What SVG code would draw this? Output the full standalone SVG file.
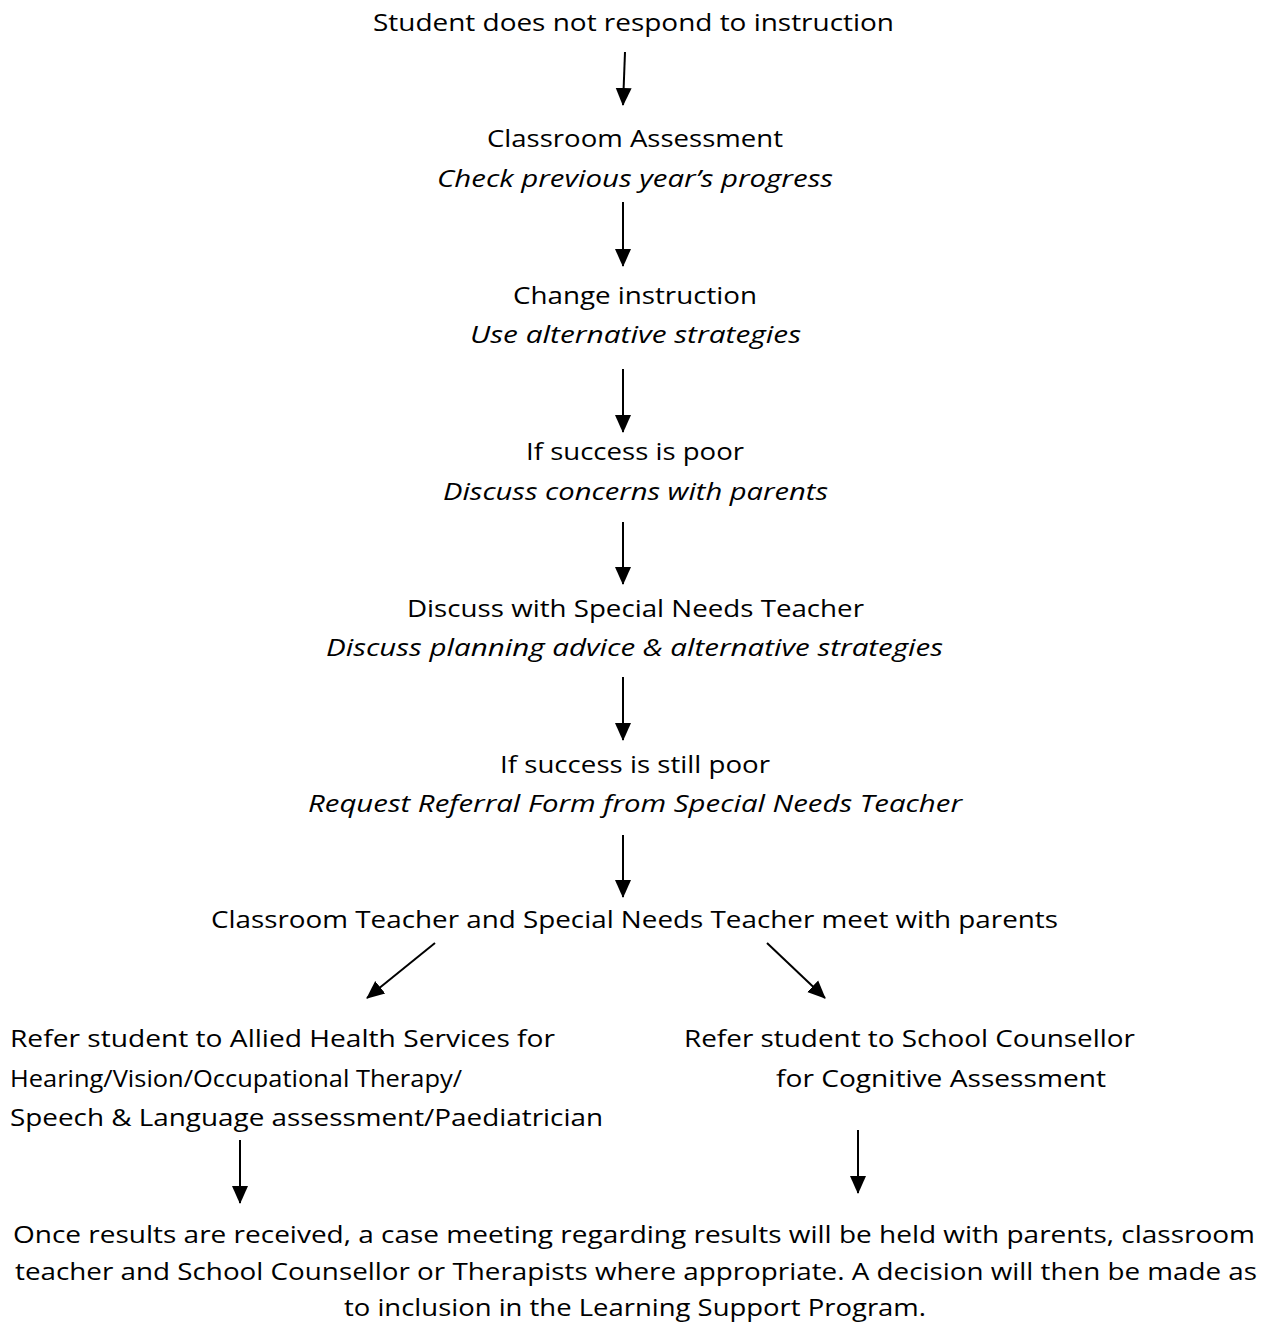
<svg xmlns="http://www.w3.org/2000/svg" width="1270" height="1326" viewBox="0 0 1270 1326">
<style>
text{font-family:"Open Sans","Liberation Sans",sans-serif;font-size:24px;fill:#000}
.c{text-anchor:middle}
.i{font-style:italic}
.a{stroke:#000;stroke-width:2;fill:none;marker-end:url(#ah)}
</style>
<defs>
<marker id="ah" markerUnits="userSpaceOnUse" markerWidth="18" markerHeight="18" viewBox="0 0 18 16" refX="17" refY="8" orient="auto">
<path d="M0,0 L18,8 L0,16 Z" fill="#000"/>
</marker>
</defs>
<rect width="1270" height="1326" fill="#fff"/>
<g id="n1"><text class="c" x="633.5" y="31" textLength="521" lengthAdjust="spacingAndGlyphs">Student does not respond to instruction</text></g>
<g id="n2"><text class="c" x="635" y="147" textLength="296" lengthAdjust="spacingAndGlyphs">Classroom Assessment</text>
<text class="c i" x="635" y="187" textLength="396" lengthAdjust="spacingAndGlyphs">Check previous year’s progress</text></g>
<g id="n3"><text class="c" x="635" y="304" textLength="244" lengthAdjust="spacingAndGlyphs">Change instruction</text>
<text class="c i" x="635.5" y="343" textLength="331" lengthAdjust="spacingAndGlyphs">Use alternative strategies</text></g>
<g id="n4"><text class="c" x="635" y="460" textLength="218" lengthAdjust="spacingAndGlyphs">If success is poor</text>
<text class="c i" x="635.5" y="500" textLength="385" lengthAdjust="spacingAndGlyphs">Discuss concerns with parents</text></g>
<g id="n5"><text class="c" x="635.5" y="617" textLength="457" lengthAdjust="spacingAndGlyphs">Discuss with Special Needs Teacher</text>
<text class="c i" x="634.5" y="656" textLength="617" lengthAdjust="spacingAndGlyphs">Discuss planning advice &amp; alternative strategies</text></g>
<g id="n6"><text class="c" x="635" y="773" textLength="270" lengthAdjust="spacingAndGlyphs">If success is still poor</text>
<text class="c i" x="635" y="812" textLength="654" lengthAdjust="spacingAndGlyphs">Request Referral Form from Special Needs Teacher</text></g>
<g id="n7"><text class="c" x="634.5" y="928" textLength="847" lengthAdjust="spacingAndGlyphs">Classroom Teacher and Special Needs Teacher meet with parents</text></g>
<g id="n8"><text x="10" y="1047" textLength="545" lengthAdjust="spacingAndGlyphs">Refer student to Allied Health Services for</text>
<text x="10" y="1087" textLength="452" lengthAdjust="spacingAndGlyphs">Hearing/Vision/Occupational Therapy/</text>
<text x="10" y="1126" textLength="593" lengthAdjust="spacingAndGlyphs">Speech &amp; Language assessment/Paediatrician</text></g>
<g id="n9"><text x="684" y="1047" textLength="451" lengthAdjust="spacingAndGlyphs">Refer student to School Counsellor</text>
<text x="776" y="1087" textLength="330" lengthAdjust="spacingAndGlyphs">for Cognitive Assessment</text></g>
<g id="n10"><text class="c" x="634" y="1243" textLength="1242" lengthAdjust="spacingAndGlyphs">Once results are received, a case meeting regarding results will be held with parents, classroom</text>
<text class="c" x="636" y="1280" textLength="1242" lengthAdjust="spacingAndGlyphs">teacher and School Counsellor or Therapists where appropriate. A decision will then be made as</text>
<text class="c" x="635" y="1316" textLength="582" lengthAdjust="spacingAndGlyphs">to inclusion in the Learning Support Program.</text></g>
<g id="connectors">
<line class="a" x1="625" y1="52" x2="623" y2="105"/>
<line class="a" x1="623" y1="202" x2="623" y2="266"/>
<line class="a" x1="623" y1="369" x2="623" y2="432"/>
<line class="a" x1="623" y1="522" x2="623" y2="584"/>
<line class="a" x1="623" y1="677" x2="623" y2="740"/>
<line class="a" x1="623" y1="835" x2="623" y2="897"/>
<line class="a" x1="435" y1="943" x2="367" y2="998"/>
<line class="a" x1="767" y1="943" x2="825" y2="998"/>
<line class="a" x1="240" y1="1140" x2="240" y2="1203"/>
<line class="a" x1="858" y1="1130" x2="858" y2="1193"/>
</g>
</svg>
